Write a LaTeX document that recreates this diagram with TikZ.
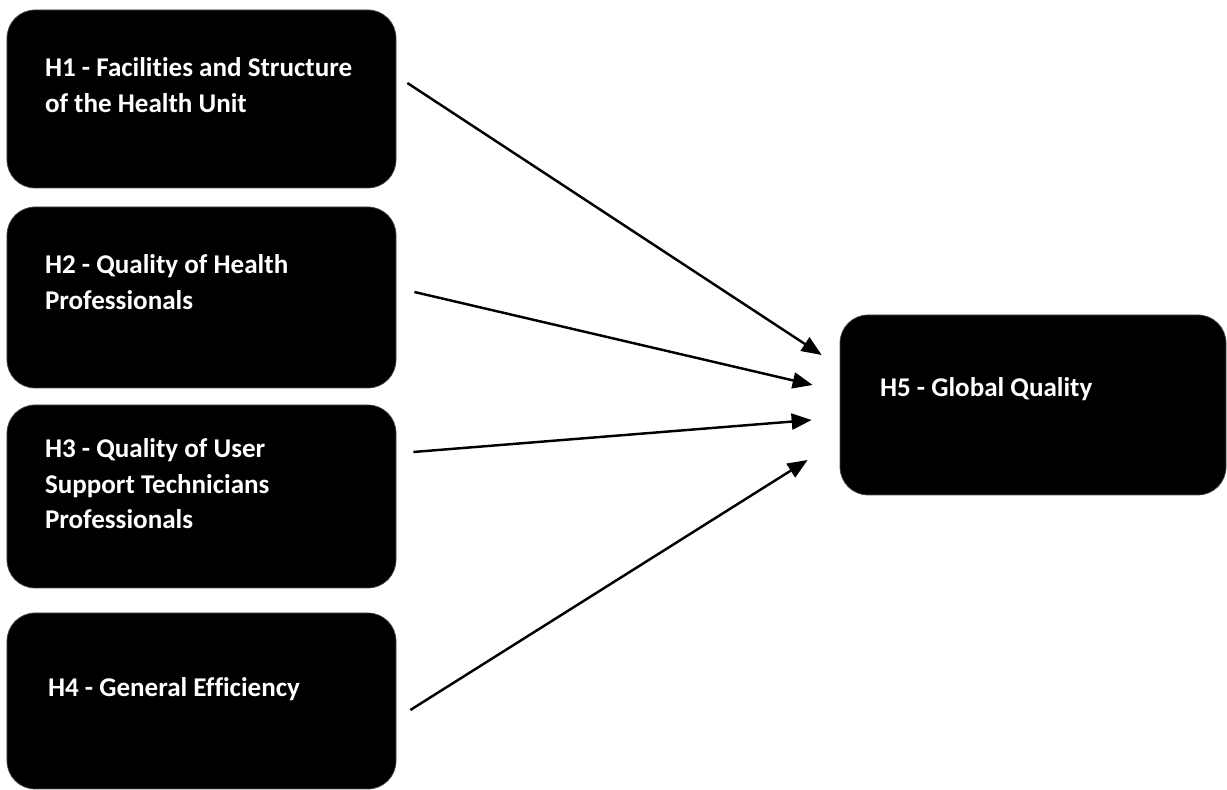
\documentclass[tikz,border=0pt]{standalone}
\usepackage{fontspec}
\setmainfont[Ligatures=NoCommon]{Carlito}
\usepackage{tikz}
\usetikzlibrary{arrows.meta,positioning,calc}

\begin{document}
\begin{tikzpicture}[
  hbox/.style={rounded corners=5.6mm, fill=black, draw=black!70, line width=0.4pt, minimum width=7.78cm, inner sep=0pt},
  hlbl/.style={text=white, font=\fontsize{15.4}{20}\selectfont\bfseries, align=left, inner sep=0pt, anchor=north west},
  harr/.style={-{Triangle[length=4mm, width=3.2mm]}, line width=1.4pt, black},
]
\useasboundingbox (0,0) rectangle (24.54,15.8);

% ─── Hypothesis boxes ───
\node[hbox, minimum height=3.56cm] (h1) at (4.03, 13.82) {};
\node[hbox, minimum height=3.62cm] (h2) at (4.03, 9.85) {};
\node[hbox, minimum height=3.66cm] (h3) at (4.03, 5.87) {};
\node[hbox, minimum height=3.52cm] (h4) at (4.03, 1.78) {};
\node[hbox, minimum height=3.6cm, minimum width=7.72cm] (h5) at (20.66, 7.7) {};

% Labels
\node[hlbl] (t1) at ($(h1.north west)+(0.76,-0.96)$) {H1 - Facilities and Structure\\of the Health Unit};
\node[hlbl] (t2) at ($(h2.north west)+(0.76,-0.96)$) {H2 - Quality of Health\\Professionals};
\node[hlbl] (t3) at ($(h3.north west)+(0.76,-0.68)$) {H3 - Quality of User\\Support Technicians\\Professionals};
\node[hlbl] (t4) at ($(h4.north west)+(0.82,-1.3)$) {H4 - General Efficiency};
\node[hlbl] (t5) at ($(h5.north west)+(0.8,-1.26)$) {H5 - Global Quality};

% ─── Arrows into H5 ───
\draw[harr] ([shift={(0.22,0.32)}]h1.east) -- ([shift={(-0.36,1.0)}]h5.west);
\draw[harr] ([shift={(0.36,0.11)}]h2.east) -- ([shift={(-0.54,0.4)}]h5.west);
\draw[harr] ([shift={(0.34,0.89)}]h3.east) -- ([shift={(-0.56,-0.3)}]h5.west);
\draw[harr] ([shift={(0.28,-0.18)}]h4.east) -- ([shift={(-0.64,-1.1)}]h5.west);

\end{tikzpicture}
\end{document}
